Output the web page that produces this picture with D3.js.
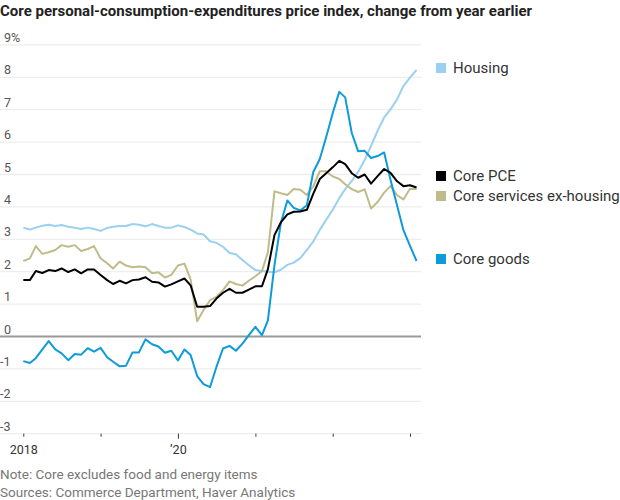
<!DOCTYPE html>
<html>
<head>
<meta charset="utf-8">
<script src="https://cdn.jsdelivr.net/npm/d3@7"></script>
<style>
  body { margin: 0; background: #fff; }
  svg { display: block; font-family: "Liberation Sans Narrow", "Roboto", "Liberation Sans", sans-serif; }
</style>
</head>
<body>
<div id="chart"></div>
<script>
// monthly readings, Jan 2018 - Feb 2023 (% change from year earlier)
const startYear = 2018;
const housing = [3.36, 3.30, 3.36, 3.42, 3.45, 3.41, 3.44, 3.39, 3.36, 3.32, 3.36, 3.32,
  3.26, 3.35, 3.39, 3.41, 3.41, 3.47, 3.45, 3.40, 3.47, 3.41, 3.36, 3.36,
  3.43, 3.38, 3.30, 3.18, 3.15, 2.94, 2.89, 2.77, 2.58, 2.54, 2.36, 2.20,
  2.05, 2.02, 2.00, 1.98, 2.06, 2.21, 2.28, 2.42, 2.67, 2.93, 3.29, 3.60,
  3.91, 4.27, 4.55, 4.80, 5.08, 5.45, 5.88, 6.35, 6.76, 7.01, 7.32, 7.73, 7.99, 8.23];
const corePCE = [1.74, 1.74, 2.02, 1.96, 2.05, 2.02, 2.10, 1.99, 2.07, 1.95, 2.07, 2.07,
  1.90, 1.74, 1.62, 1.72, 1.64, 1.74, 1.76, 1.83, 1.69, 1.67, 1.54, 1.61,
  1.70, 1.79, 1.58, 0.92, 0.92, 0.94, 1.17, 1.35, 1.47, 1.35, 1.35, 1.45,
  1.55, 1.55, 2.08, 3.13, 3.52, 3.77, 3.85, 3.86, 3.91, 4.40, 4.86, 5.04,
  5.22, 5.42, 5.32, 5.04, 4.90, 5.00, 4.72, 4.95, 5.17, 5.05, 4.79, 4.64, 4.67, 4.60];
const servicesExHousing = [2.33, 2.41, 2.79, 2.55, 2.60, 2.67, 2.82, 2.77, 2.82, 2.64, 2.70, 2.79,
  2.41, 2.26, 2.10, 2.31, 2.19, 2.14, 2.16, 2.14, 1.95, 1.98, 1.82, 1.90,
  2.19, 2.25, 1.76, 0.47, 0.82, 1.12, 1.22, 1.43, 1.70, 1.62, 1.57, 1.72,
  1.86, 2.02, 2.60, 4.48, 4.42, 4.37, 4.55, 4.53, 4.37, 4.63, 5.10, 5.10,
  4.94, 4.86, 4.70, 4.55, 4.46, 4.54, 3.95, 4.15, 4.44, 4.65, 4.36, 4.23, 4.56, 4.55];
const coreGoods = [-0.76, -0.82, -0.67, -0.40, -0.14, -0.40, -0.52, -0.73, -0.54, -0.56, -0.36, -0.47,
  -0.35, -0.64, -0.78, -0.92, -0.90, -0.49, -0.49, -0.09, -0.24, -0.31, -0.50, -0.44,
  -0.74, -0.40, -0.57, -1.22, -1.47, -1.56, -0.94, -0.37, -0.29, -0.44, -0.22, 0.04,
  0.30, 0.04, 0.50, 2.20, 3.50, 4.20, 3.97, 3.89, 4.05, 5.07, 5.48, 6.15,
  6.89, 7.55, 7.38, 6.28, 5.72, 5.73, 5.51, 5.57, 5.68, 4.84, 4.04, 3.28, 2.80, 2.33];

const yTicks = [-3, -2, -1, 0, 1, 2, 3, 4, 5, 6, 7, 8, 9];
const tickYears = [2018, 2019, 2020, 2021, 2022, 2023];

const seriesList = [
  { name: "Housing", values: housing, color: "#9bd0f0", labelY: 68 },
  { name: "Core services ex-housing", values: servicesExHousing, color: "#c0bb8b", labelY: 196 },
  { name: "Core goods", values: coreGoods, color: "#0d9bd9", labelY: 259 },
  { name: "Core PCE", values: corePCE, color: "#000000", labelY: 176 }
];

let svgWidth = 620;
let svgHeight = 500;
let plotRight = 421;

let svg = d3.select("#chart").append("svg")
  .attr("width", svgWidth)
  .attr("height", svgHeight);

let x = d3.scaleTime()
  .domain([new Date(2018, 0, 1), new Date(2023, 0, 1)])
  .range([23.3, 410]);

let y = d3.scaleLinear()
  .domain([-3, 9])
  .range([433.7, 44.9]);

// title
svg.append("text")
  .attr("x", 0).attr("y", 16)
  .attr("font-size", 15).attr("font-weight", "bold")
  .attr("fill", "#222")
  .attr("textLength", 532).attr("lengthAdjust", "spacingAndGlyphs")
  .text("Core personal-consumption-expenditures price index, change from year earlier");

// gridlines + labels
let grid = svg.append("g");
grid.selectAll("line")
  .data(yTicks.filter(d => d !== 0))
  .enter().append("line")
  .attr("x1", 0).attr("x2", plotRight)
  .attr("y1", d => y(d)).attr("y2", d => y(d))
  .attr("stroke", "#ededed").attr("stroke-width", 1.3);

grid.selectAll("text")
  .data(yTicks)
  .enter().append("text")
  .attr("x", d => d < 0 ? 0 : 4)
  .attr("y", d => y(d) - 3)
  .attr("font-size", 12.5)
  .attr("fill", "#555")
  .text(d => (d < 0 ? "-" + Math.abs(d) : d) + (d === 9 ? "%" : ""));

// x axis ticks
let xAxis = d3.axisBottom(x)
  .tickValues(tickYears.map(d => new Date(d, 0, 1)))
  .tickSize(3)
  .tickFormat(d => d.getFullYear() === 2018 ? "2018" : d.getFullYear() === 2020 ? "\u201920" : "");

let axisG = svg.append("g")
  .attr("transform", `translate(0, ${y(-3)})`)
  .call(xAxis);
axisG.select(".domain").remove();
axisG.selectAll(".tick line")
  .attr("stroke", "#333")
  .attr("y2", d => d.getFullYear() === 2020 ? 5 : 3);
axisG.selectAll(".tick text")
  .attr("y", 20).attr("dy", 0)
  .attr("font-size", 12.5)
  .attr("font-family", "\"Liberation Sans Narrow\", Roboto, sans-serif")
  .attr("fill", "#333");

// zero line
svg.append("line")
  .attr("x1", 0).attr("x2", plotRight)
  .attr("y1", y(0)).attr("y2", y(0))
  .attr("stroke", "#999").attr("stroke-width", 1.8);

// lines
let line = d3.line()
  .x((d, i) => x(new Date(startYear, i, 1)))
  .y(d => y(d));

svg.append("g").selectAll("path")
  .data(seriesList)
  .enter().append("path")
  .attr("d", d => line(d.values))
  .attr("fill", "none")
  .attr("stroke", d => d.color)
  .attr("stroke-width", 2)
  .attr("stroke-linejoin", "round");

// legend
let legend = svg.append("g").selectAll("g")
  .data(seriesList)
  .enter().append("g")
  .attr("transform", d => `translate(436, ${d.labelY})`);
legend.append("rect")
  .attr("x", 0).attr("y", -5)
  .attr("width", 10).attr("height", 10)
  .attr("fill", d => d.color);
legend.append("text")
  .attr("x", 17).attr("y", 5)
  .attr("font-size", 15)
  .attr("fill", "#333")
  .text(d => d.name);

// notes
svg.append("text")
  .attr("x", 0).attr("y", 479)
  .attr("font-size", 13.5).attr("fill", "#777")
  .text("Note: Core excludes food and energy items");
svg.append("text")
  .attr("x", 0).attr("y", 497)
  .attr("font-size", 13.5).attr("fill", "#777")
  .text("Sources: Commerce Department, Haver Analytics");
</script>
</body>
</html>
